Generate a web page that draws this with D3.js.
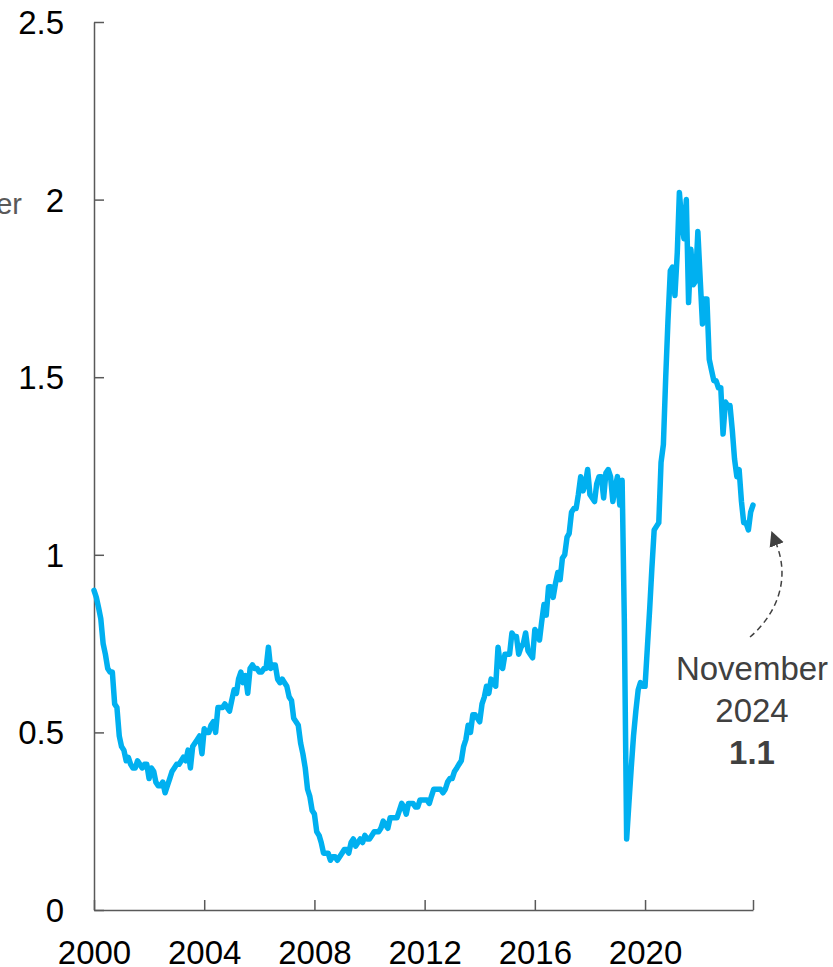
<!DOCTYPE html>
<html>
  <head>
    <meta charset="utf-8">
    <title>Job openings per unemployed worker</title>
    <script src="https://d3js.org/d3.v7.min.js"></script>
    <style>
      body { margin: 0; background: #fff; }
      #chart { width: 833px; height: 967px; display: block; font-family: "Liberation Sans", Arial, sans-serif; }
      .axis path, .axis line { stroke: #595959; stroke-width: 1.5px; }
      .axis text { fill: #000; font-size: 33px; font-family: "Liberation Sans", Arial, sans-serif; }
    </style>
  </head>
  <body>
    <svg id="chart">
      <g id="xAxisGroup" class="axis"></g>
      <g id="yAxisGroup" class="axis"></g>
      <g id="chartGroup"></g>
      <g id="noteGroup"></g>
    </svg>
    <script>
      // monthly ratio, first value is December 2000
      const startMonth = new Date(2000, 11, 1);
      const ratio = [
        0.90,
        0.88, 0.85, 0.82, 0.75, 0.72, 0.68, 0.67, 0.67, 0.58, 0.57, 0.49, 0.46, // 2001
        0.45, 0.42, 0.43, 0.41, 0.40, 0.40, 0.42, 0.41, 0.40, 0.41, 0.41, 0.37, // 2002
        0.40, 0.39, 0.36, 0.35, 0.35, 0.36, 0.33, 0.35, 0.37, 0.39, 0.40, 0.41, // 2003
        0.41, 0.42, 0.43, 0.42, 0.45, 0.40, 0.46, 0.47, 0.48, 0.49, 0.44, 0.51, // 2004
        0.50, 0.50, 0.52, 0.53, 0.50, 0.57, 0.57, 0.57, 0.58, 0.57, 0.56, 0.59, // 2005
        0.62, 0.61, 0.65, 0.67, 0.64, 0.66, 0.61, 0.68, 0.69, 0.68, 0.68, 0.67, // 2006
        0.67, 0.68, 0.68, 0.74, 0.68, 0.69, 0.69, 0.65, 0.64, 0.65, 0.64, 0.63, // 2007
        0.60, 0.59, 0.54, 0.53, 0.52, 0.47, 0.44, 0.40, 0.34, 0.32, 0.28, 0.27, // 2008
        0.22, 0.21, 0.19, 0.16, 0.16, 0.16, 0.14, 0.15, 0.15, 0.14, 0.15, 0.16, // 2009
        0.17, 0.17, 0.16, 0.19, 0.20, 0.18, 0.19, 0.20, 0.19, 0.21, 0.20, 0.20, // 2010
        0.21, 0.22, 0.22, 0.22, 0.23, 0.25, 0.24, 0.23, 0.26, 0.26, 0.26, 0.26, // 2011
        0.28, 0.30, 0.29, 0.27, 0.30, 0.30, 0.30, 0.29, 0.29, 0.31, 0.31, 0.31, // 2012
        0.31, 0.30, 0.32, 0.34, 0.34, 0.34, 0.34, 0.33, 0.34, 0.36, 0.37, 0.37, // 2013
        0.39, 0.40, 0.41, 0.42, 0.46, 0.48, 0.52, 0.50, 0.55, 0.55, 0.54, 0.53, // 2014
        0.58, 0.60, 0.63, 0.61, 0.65, 0.64, 0.63, 0.74, 0.69, 0.68, 0.72, 0.72, // 2015
        0.72, 0.78, 0.77, 0.77, 0.72, 0.74, 0.75, 0.78, 0.73, 0.72, 0.71, 0.79, // 2016
        0.78, 0.76, 0.81, 0.86, 0.83, 0.91, 0.91, 0.88, 0.92, 0.95, 0.93, 0.99, // 2017
        1.00, 1.05, 1.06, 1.12, 1.13, 1.13, 1.17, 1.22, 1.18, 1.20, 1.24, 1.17, // 2018
        1.16, 1.15, 1.20, 1.22, 1.22, 1.16, 1.23, 1.24, 1.22, 1.15, 1.19, 1.22, // 2019
        1.14, 1.21, 0.82, 0.20, 0.30, 0.40, 0.49, 0.56, 0.62, 0.64, 0.63, 0.63, // 2020
        0.74, 0.85, 0.96, 1.07, 1.08, 1.09, 1.26, 1.31, 1.50, 1.66, 1.80, 1.81, // 2021
        1.73, 1.85, 2.02, 1.94, 1.89, 2.00, 1.71, 1.86, 1.76, 1.77, 1.91, 1.78, // 2022
        1.65, 1.72, 1.72, 1.55, 1.52, 1.49, 1.49, 1.47, 1.47, 1.34, 1.43, 1.42, // 2023
        1.42, 1.35, 1.27, 1.22, 1.24, 1.15, 1.09, 1.09, 1.07, 1.12, 1.14        // 2024
      ];
      const xTickYears = [2000, 2004, 2008, 2012, 2016, 2020];
      const yTicks = [0, 0.5, 1, 1.5, 2, 2.5];
      const noteLines = ["November", "2024", "1.1"];
      const yTitle = "Job openings per unemployed worker";

      data = ratio.map(function(d, i) {
        return { date: d3.timeMonth.offset(startMonth, i), value: d };
      });

      width = 833;
      height = 967;
      margin = { top: 22, right: 80, bottom: 57, left: 94 };

      chart = d3.select("#chart")
        .attr("width", width)
        .attr("height", height);

      x = d3.scaleTime()
        .domain(d3.extent(data, function(d) { return d.date; }))
        .range([margin.left, 753]);
      y = d3.scaleLinear()
        .domain([0, 2.5])
        .range([height - margin.bottom, margin.top]);

      // ticks sit on each December, labelled with that year; last tick closes the axis
      xTickDates = xTickYears.map(function(yr) { return new Date(yr, 11, 1); })
        .concat([data[data.length - 1].date]);

      xAxis = d3.axisBottom(x)
        .tickValues(xTickDates)
        .tickSizeInner(-10)
        .tickSizeOuter(0)
        .tickPadding(31)
        .tickFormat(function(d, i) { return i < xTickYears.length ? xTickYears[i] : ""; });
      yAxis = d3.axisLeft(y)
        .tickValues(yTicks)
        .tickSizeInner(-10)
        .tickSizeOuter(0)
        .tickPadding(30)
        .tickFormat(function(d) { return d3.format("")(d); });

      d3.select("#xAxisGroup")
        .attr("transform", "translate(0, " + y(0) + ")")
        .call(xAxis);
      d3.select("#yAxisGroup")
        .attr("transform", "translate(" + margin.left + ", 0)")
        .call(yAxis);
      d3.selectAll("#xAxisGroup .tick text").attr("dy", "0.71em");
      d3.selectAll("#yAxisGroup .tick text").attr("dy", "0.35em");

      // cut-off axis title at the left edge
      chart.append("text")
        .attr("x", 22)
        .attr("y", 214)
        .attr("text-anchor", "end")
        .style("font-size", "29px")
        .style("fill", "#595959")
        .text(yTitle);

      line = d3.line()
        .x(function(d) { return x(d.date); })
        .y(function(d) { return y(d.value); });

      d3.select("#chartGroup").append("path")
        .datum(data)
        .attr("d", line)
        .attr("fill", "none")
        .attr("stroke", "#00B0F0")
        .attr("stroke-width", 5.5)
        .attr("stroke-linejoin", "round")
        .attr("stroke-linecap", "round");

      // annotation for the latest value
      noteGroup = d3.select("#noteGroup");
      chart.insert("defs", ":first-child")
        .append("marker")
          .attr("id", "arrow")
          .attr("markerUnits", "userSpaceOnUse")
          .attr("viewBox", "0 -8 16 16")
          .attr("refX", 0)
          .attr("refY", 0)
          .attr("markerWidth", 16)
          .attr("markerHeight", 16)
          .attr("orient", "auto")
        .append("path")
          .attr("d", "M0,-7.5L15,0L0,7.5Z")
          .attr("fill", "#404040");

      noteGroup.append("path")
        .attr("d", "M750,637C768,622 793,588 776.7,545")
        .attr("fill", "none")
        .attr("stroke", "#404040")
        .attr("stroke-width", 1.5)
        .attr("stroke-dasharray", "6,4")
        .attr("marker-end", "url(#arrow)");

      noteGroup.selectAll(".note")
          .data(noteLines)
        .enter().append("text")
          .classed("note", true)
          .attr("x", 752)
          .attr("y", function(d, i) { return 680 + i * 42; })
          .attr("text-anchor", "middle")
          .style("font-size", "33px")
          .style("fill", "#404040")
          .style("font-weight", function(d, i) { return i == 2 ? "bold" : "normal"; })
          .text(function(d) { return d; });
    </script>
  </body>
</html>
